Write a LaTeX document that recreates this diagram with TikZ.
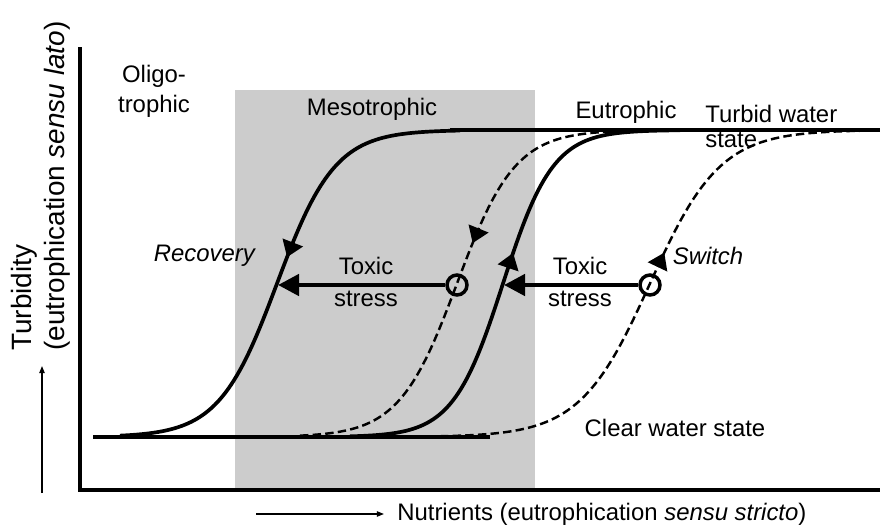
\documentclass[tikz,border=0pt]{standalone}
\usepackage{fontspec}
\setmainfont{Liberation Sans}
\usetikzlibrary{arrows.meta}
\usetikzlibrary{decorations.markings}
\definecolor{mesogray}{gray}{0.8}
\newcommand{\figfont}{\fontsize{13.6}{17}\selectfont}

\begin{document}
\begin{tikzpicture}[x=0.02cm, y=-0.02cm,
    declare function={sig(\x,\m,\s)=437-307/(1+exp(-(\x-\m)/\s));},
    uptip/.style={postaction={decorate}, decoration={markings,
        mark=at position #1 with {\arrow{Triangle[length=9pt,width=12pt]}}}},
    downtip/.style={postaction={decorate}, decoration={markings,
        mark=at position #1 with {\arrowreversed{Triangle[length=9pt,width=12pt]}}}}]
            \tikzstyle{axis} = [line width=2.1pt]
            \tikzstyle{solidcurve} = [line width=2.1pt]
            \tikzstyle{dashcurve} = [line width=1.4pt, dash pattern=on 4.8pt off 2.4pt]
            \tikzstyle{stressarrow} = [line width=2.6pt, -{Triangle[length=12pt,width=12pt]}]
            \tikzstyle{axisarrow} = [line width=0.8pt, -{Triangle[length=4pt,width=3pt]}]
            \tikzstyle{ring} = [circle, draw, line width=2pt, minimum size=0.4cm, inner sep=0pt]
            \tikzstyle{txt} = [inner sep=0pt, font=\figfont]
            \useasboundingbox (0,0) rectangle (880,528);
            % mesotrophic band and axes
            \fill[mesogray] (235,90) rectangle (535,490);
            \draw[axis] (80,47) -- (80,490) -- (880,490);
            % clear and turbid states
            \draw[solidcurve] (93,437) -- (490,437);
            \draw[solidcurve] (450,130) -- (880,130);
            % hysteresis curves
            \draw[solidcurve, downtip=0.53] plot[domain=120:460, samples=120] (\x, {sig(\x,277,29)});
            \draw[dashcurve, downtip=0.56] plot[domain=300:640, samples=120] (\x, {sig(\x,457,29)});
            \draw[solidcurve, uptip=0.54] plot[domain=350:680, samples=120] (\x, {sig(\x,503,25)});
            \draw[dashcurve, uptip=0.55] plot[domain=440:870, samples=140] (\x, {sig(\x,650,35)});
            % toxic stress shifts
            \node[ring] (c1) at (457,285) {};
            \node[ring] (c2) at (650,285) {};
            \coordinate (r1) at (278,285);
            \coordinate (r2) at (504,285);
            \draw[stressarrow] (c1) -- (r1);
            \draw[stressarrow] (c2) -- (r2);
            % labels
            \node[txt, align=center] (oligo) at (154,91) {Oligo-\\trophic};
            \node[txt] (meso) at (372,109) {Mesotrophic};
            \node[txt] (eutro) at (626,112) {Eutrophic};
            \node[txt, align=left, anchor=west, font=\fontsize{13.6}{14.2}\selectfont] (turbid) at (705,126) {Turbid water\\state};
            \node[txt] (clear) at (675,428) {Clear water state};
            \node[txt] (recov) at (205,256) {\textit{Recovery}};
            \node[txt] (switch) at (708,256) {\textit{Switch}};
            \node[txt, align=center, font=\fontsize{13.6}{18}\selectfont] (tox1) at (366,282) {Toxic\\stress};
            \node[txt, align=center, font=\fontsize{13.6}{18}\selectfont] (tox2) at (580,282) {Toxic\\stress};
            % axis titles
            \node[txt, anchor=west] (xlab) at (397,514) {Nutrients (eutrophication \textit{sensu stricto})};
            \coordinate (xa0) at (256,514);
            \coordinate (xa1) at (384,514);
            \draw[axisarrow] (xa0) -- (xa1);
            \node[txt, rotate=90, align=left, anchor=west, font=\fontsize{15.9}{18.8}\selectfont] (ylab) at (41,351) {Turbidity\\(eutrophication \textit{sensu lato})};
            \coordinate (ya0) at (42,493);
            \coordinate (ya1) at (42,366);
            \draw[axisarrow] (ya0) -- (ya1);
        \end{tikzpicture}
\end{document}
